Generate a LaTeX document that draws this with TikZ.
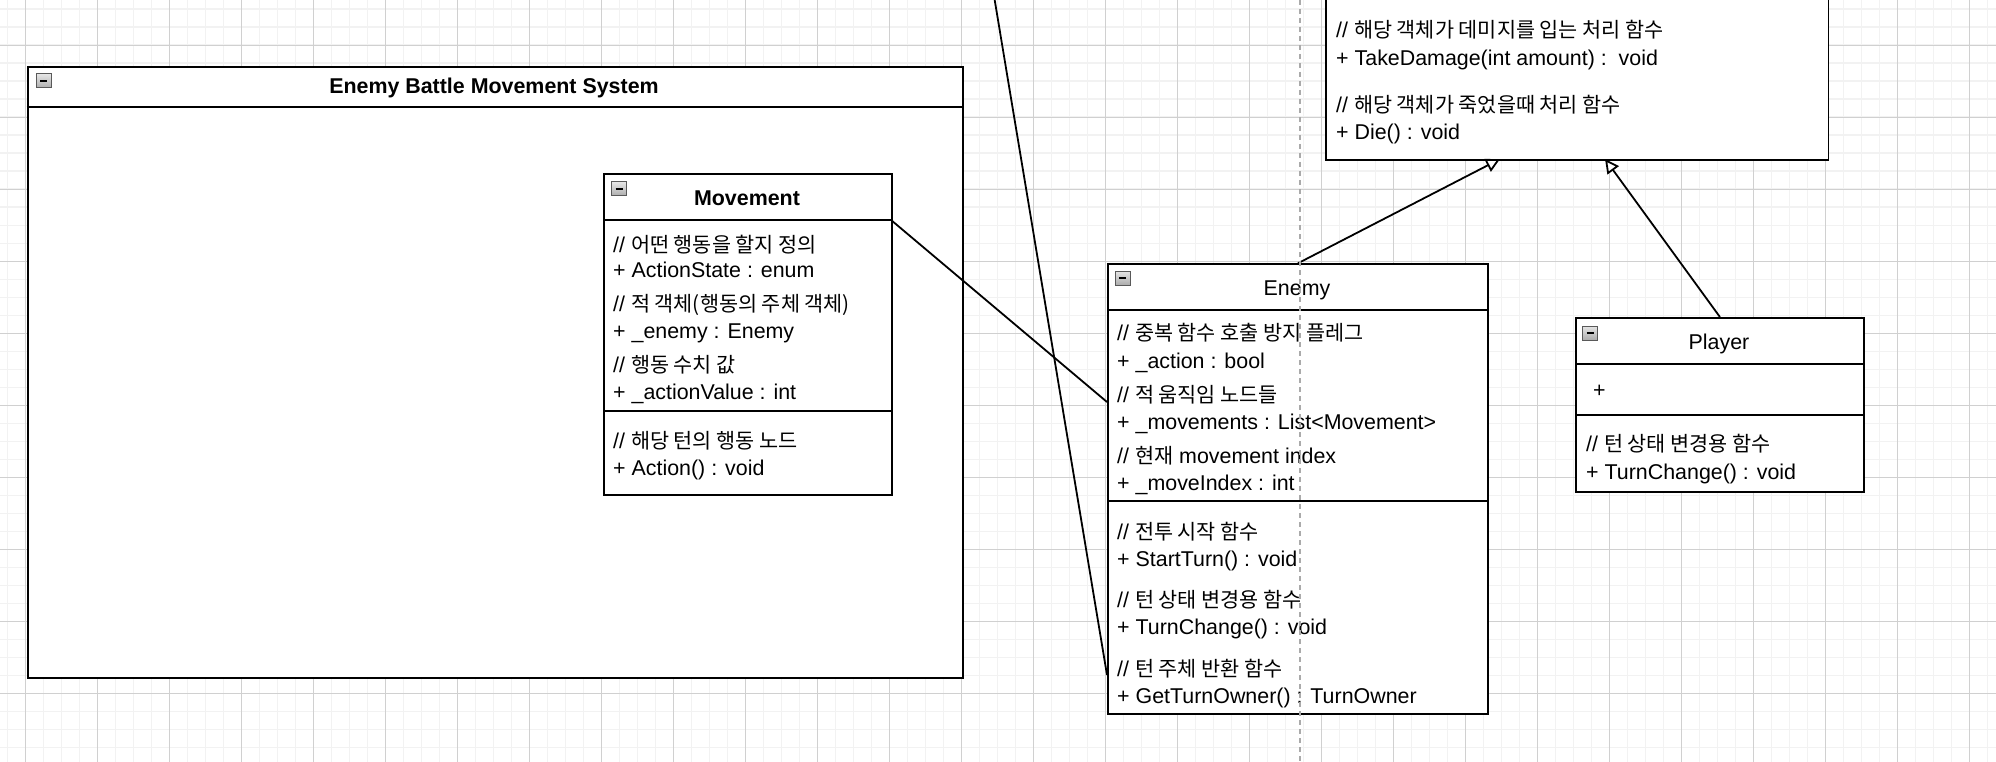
\documentclass[tikz,border=0pt]{standalone}
\usepackage{fontspec}
\setmainfont{Liberation Sans}
\newfontfamily\kr{Noto Sans CJK KR}[Scale=0.97]
\usetikzlibrary{arrows.meta}
\newcommand\K[1]{{\kr #1}}
\definecolor{minorgrid}{RGB}{242,242,242}
\definecolor{majorgrid}{RGB}{208,208,208}
\definecolor{dashgray}{RGB}{170,170,170}
\begin{document}
\begin{tikzpicture}[x=1pt,y=-1pt,
  box/.style={draw=black, fill=white, line width=1.8pt, inner sep=0pt, anchor=north west},
  sepline/.style={draw=black, line width=1.8pt},
  txt/.style={anchor=base west, inner sep=0pt, font=\fontsize{21.4}{25}\selectfont},
  ttl/.style={anchor=base, inner sep=0pt, font=\fontsize{21.4}{25}\selectfont},
  conn/.style={draw=black, line width=1.8pt},
  inherit/.style={draw=black, line width=1.8pt, -{Triangle[open, length=14pt, width=14pt, fill=white]}},
  icon/.pic={
    \shade[top color=gray!20, bottom color=gray!65, draw=gray!70!black, line width=1pt] (0,0) rectangle (15,14);
    \draw[black, line width=2.2pt] (4,7) -- (11,7);
  }]
\useasboundingbox (0,0) rectangle (1996,762);
\clip (0,0) rectangle (1996,762);
\fill[white] (0,0) rectangle (1996,762);
% grid
\foreach \i in {0,...,111} {
  \draw[minorgrid, line width=1.6pt] ({7.3+18*\i},0) -- ({7.3+18*\i},762);
}
\foreach \i in {0,...,43} {
  \draw[minorgrid, line width=1.6pt] (0,{9.3+18*\i}) -- (1996,{9.3+18*\i});
}
\foreach \i in {0,...,27} {
  \draw[majorgrid, line width=0.9pt] ({25.3+72*\i},0) -- ({25.3+72*\i},762);
}
\foreach \i in {0,...,10} {
  \draw[majorgrid, line width=0.9pt] (0,{45.3+72*\i}) -- (1996,{45.3+72*\i});
}

% outer container
\node[box, minimum width=935.3pt, minimum height=611pt] (sys) at (26.7,66) {};
\draw[sepline] (26.7,107) -- (962,107);
\pic at (36,74) {icon};
\node[ttl, font=\fontsize{21.4}{25}\selectfont\bfseries] (systitle) at (494,93.3) {Enemy Battle Movement System};

% top (base) class
\node[box, minimum width=502.5pt, minimum height=179pt] (base) at (1325,-20) {};
\node[txt] (b1) at (1336,37.3) {// \K{해당 객체가 데미지를 입는 처리 함수}};
\node[txt] (b2) at (1336,65.7) {+ TakeDamage(int amount) :\ \ void};
\node[txt] (b3) at (1336,112.7) {// \K{해당 객체가 죽었을때 처리 함수}};
\node[txt] (b4) at (1336,140) {+ Die() : void};
\coordinate (baseA) at (1500,159);
\coordinate (baseB) at (1605,159);

% Movement class
\node[box, minimum width=288pt, minimum height=320.7pt] (mov) at (603,173.3) {};
\draw[sepline] (603,220) -- (891,220);
\draw[sepline] (603,411) -- (891,411);
\pic at (611.7,182) {icon};
\node[ttl, font=\fontsize{21.4}{25}\selectfont\bfseries] (movtitle) at (747,205) {Movement};
\node[txt] (m1) at (613,252) {// \K{어떤 행동을 할지 정의}};
\node[txt] (m2) at (613,277.5) {+ ActionState : enum};
\node[txt] (m3) at (613,311.5) {// \K{적 객체(행동의 주체 객체)}};
\node[txt] (m4) at (613,338.5) {+ \_enemy : Enemy};
\node[txt] (m5) at (613,372.5) {// \K{행동 수치 값}};
\node[txt] (m6) at (613,399) {+ \_actionValue : int};
\node[txt] (m7) at (613,448) {// \K{해당 턴의 행동 노드}};
\node[txt] (m8) at (613,475) {+ Action() : void};
\coordinate (movR) at (891,220);

% Enemy class
\node[box, minimum width=380pt, minimum height=449.7pt] (enemy) at (1107,263.3) {};
\draw[sepline] (1107,310) -- (1487,310);
\draw[sepline] (1107,501) -- (1487,501);
\pic at (1115,271) {icon};
\node[ttl] (entitle) at (1297,295) {Enemy};
\node[txt] (e1) at (1117,340.7) {// \K{중복 함수 호출 방지 플레그}};
\node[txt] (e2) at (1117,368.3) {+ \_action : bool};
\node[txt] (e3) at (1117,402.7) {// \K{적 움직임 노드들}};
\node[txt] (e4) at (1117,429.3) {+ \_movements : List<Movement>};
\node[txt] (e5) at (1117,463.3) {// \K{현재} movement index};
\node[txt] (e6) at (1117,490) {+ \_moveIndex : int};
\node[txt] (e7) at (1117,539.3) {// \K{전투 시작 함수}};
\node[txt] (e8) at (1117,566) {+ StartTurn() : void};
\node[txt] (e9) at (1117,607.7) {// \K{턴 상태 변경용 함수}};
\node[txt] (e10) at (1117,634) {+ TurnChange() : void};
\node[txt] (e11) at (1117,676) {// \K{턴 주체 반환 함수}};
\node[txt] (e12) at (1117,703.3) {+ GetTurnOwner() : TurnOwner};
\coordinate (enL1) at (1107,402);
\coordinate (enL2) at (1107,675);

% Player class
\node[box, minimum width=288pt, minimum height=174pt] (player) at (1575,317) {};
\draw[sepline] (1575,364) -- (1863,364);
\draw[sepline] (1575,415) -- (1863,415);
\pic at (1582.7,326) {icon};
\node[ttl] (pltitle) at (1719,349) {Player};
\node[txt] (p1) at (1593,397) {+};
\node[txt] (p2) at (1586,451.7) {// \K{턴 상태 변경용 함수}};
\node[txt] (p3) at (1586,479.3) {+ TurnChange() : void};

% connectors
\coordinate (topfree) at (993,-10);
\draw[conn] (movR) -- (enL1);
\draw[conn] (topfree) -- (enL2);
\draw[inherit] (enemy.north) -- (baseA);
\draw[inherit] (player.north) -- (baseB);

% dashed guide
\coordinate (gtop) at (1300,0);
\coordinate (gbot) at (1300,762);
\draw[dashgray, line width=1.5pt, dash pattern=on 5pt off 4pt] (gtop) -- (gbot);
\end{tikzpicture}
\end{document}
